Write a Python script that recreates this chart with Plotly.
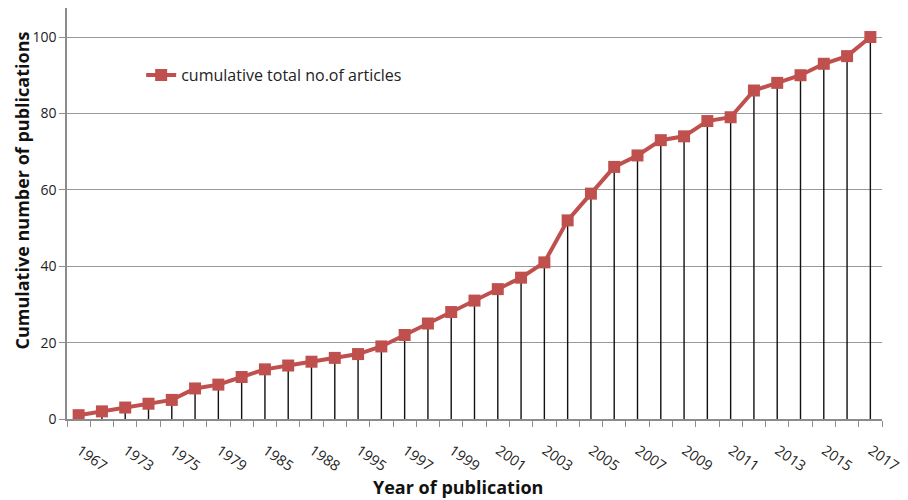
import plotly.graph_objects as go

years = [1967, 1972, 1973, 1974, 1975, 1977, 1979, 1983, 1985, 1987, 1988, 1990,
         1995, 1996, 1997, 1998, 1999, 2000, 2001, 2002, 2003, 2004, 2005, 2006,
         2007, 2008, 2009, 2010, 2011, 2012, 2013, 2014, 2015, 2016, 2017]
cumulative = [1, 2, 3, 4, 5, 8, 9, 11, 13, 14, 15, 16, 17, 19, 22, 25, 28, 31, 34,
              37, 41, 52, 59, 66, 69, 73, 74, 78, 79, 86, 88, 90, 93, 95, 100]
shown_labels = [str(y) for i, y in enumerate(years) if i % 2 == 0]

idx = list(range(len(years)))
FONT = "Open Sans"
RED = "#c0504d"

fig = go.Figure()
fig.add_trace(go.Scatter(
    x=idx, y=cumulative, mode="lines+markers",
    name="cumulative total no.of articles",
    line=dict(color=RED, width=4),
    marker=dict(symbol="square", size=12, color=RED, line=dict(width=0)),
    error_y=dict(type="data", symmetric=False, array=[0] * len(cumulative),
                 arrayminus=cumulative, width=0, color="#111111", thickness=1.4),
))

fig.update_layout(
    width=908, height=500,
    margin=dict(l=59, r=34, t=0, b=89),
    paper_bgcolor="white", plot_bgcolor="white",
    font=dict(family=FONT, size=13, color="#222222"),
    showlegend=True,
    legend=dict(x=0.091, y=0.837, xanchor="left", yanchor="middle",
                bgcolor="rgba(0,0,0,0)", font=dict(size=16, color="#222222"),
                itemwidth=30),
    xaxis=dict(
        automargin=False,
        range=[-0.5, len(years) - 0.5],
        tickmode="array", tickvals=idx[::2], ticktext=shown_labels,
        tickangle=35, ticks="", showgrid=False, zeroline=False,
        showline=True, linecolor="#8c8c8c", linewidth=1.5,
        tickfont=dict(size=14.5, color="#222222"),
        ticklabelstandoff=16, ticklabelshift=1,
        minor=dict(tickmode="linear", tick0=-0.5, dtick=1, ticks="outside",
                   ticklen=6, tickcolor="#8c8c8c", tickwidth=1.2, showgrid=False),
    ),
    yaxis=dict(
        automargin=False,
        range=[0, 107.6], tickvals=[0, 20, 40, 60, 80, 100],
        ticks="outside", ticklen=6, tickcolor="#8c8c8c", tickwidth=1.2,
        showgrid=True, gridcolor="#999999", gridwidth=1.2,
        zeroline=False, showline=True, linecolor="#8c8c8c", linewidth=1.5,
        tickfont=dict(size=14, color="#222222"),
    ),
    annotations=[
        dict(text="<b>Year of publication</b>", xref="paper", yref="paper",
             x=0.48, y=-0.165, xanchor="center", yanchor="middle",
             showarrow=False, font=dict(size=18, color="#111111", family=FONT)),
        dict(text="<b>Cumulative number of publications</b>", xref="paper",
             yref="paper", x=-0.0718, y=0.557, xanchor="left", yanchor="middle",
             textangle=-90, showarrow=False,
             font=dict(size=18, color="#111111", family=FONT)),
    ],
)

fig.write_html("out.html")
